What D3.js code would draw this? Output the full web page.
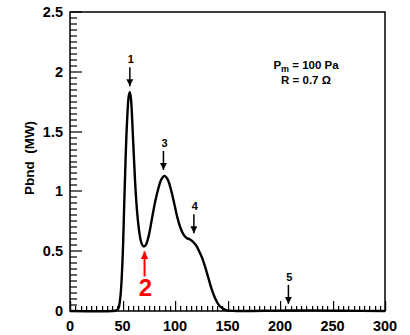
<!DOCTYPE html>
<html><head><meta charset="utf-8">
<script src="https://cdn.jsdelivr.net/npm/d3@7"></script>
<style>body{margin:0;background:#fff}svg{display:block;font-family:"Liberation Sans",Arial,sans-serif;font-weight:bold}</style>
</head><body>
<svg id="c" width="410" height="335"></svg>
<script>
const xs = [0,40,44,46,48,50,52,54,56,57,58,60,62,64,66,68,70,72,75,78,81,84,87,90,93,96,99,102,105,108,111,114,117,120,123,126,129,132,135,138,141,144,148,152,160,200,230,260,300];
const ys = [0,0,0.005,0.02,0.12,0.42,1.0,1.52,1.80,1.83,1.78,1.45,1.08,0.82,0.66,0.57,0.54,0.55,0.63,0.77,0.91,1.02,1.10,1.13,1.10,1.02,0.91,0.79,0.70,0.64,0.61,0.60,0.58,0.55,0.50,0.44,0.36,0.27,0.18,0.11,0.06,0.03,0.01,0.003,0,0.003,0.005,0.002,0];
const xTicks = [0,50,100,150,200,250,300];
const yTicks = [0,0.5,1,1.5,2,2.5];
const markers = [{label:"1",x:57,y:1.83},{label:"3",x:89,y:1.13},{label:"4",x:118,y:0.6},{label:"5",x:208,y:0.01}];
const marker2 = {label:"2",x:71,y:0.54};
const annot = ["P","m"," = 100 Pa","R = 0.7 Ω"];

const svg = d3.select("#c");
const L=70,R=385,T=12,B=311;
const xScale = d3.scaleLinear().domain([0,300]).range([L,R]);
const yScale = d3.scaleLinear().domain([0,2.5]).range([B,T]);

// frame
svg.append("rect").attr("x",L).attr("y",T).attr("width",R-L).attr("height",B-T).attr("fill","none").attr("stroke","#000").attr("stroke-width",1.5);

// tick labels
svg.append("g").selectAll("text").data(xTicks).join("text").attr("x",d=>xScale(d)).attr("y",331).attr("text-anchor","middle").attr("font-size",14.5).text(d=>d);
svg.append("g").selectAll("text").data(yTicks).join("text").attr("x",63).attr("y",d=>yScale(d)+5).attr("text-anchor","end").attr("font-size",14.5).text(d=>d);

// axis title
svg.append("text").attr("transform","translate(34,158) rotate(-90)").attr("text-anchor","middle").attr("font-size",13.5).attr("xml:space","preserve").text("Pbnd  (MW)");

// curve
const pts = xs.map((v,i)=>[v,ys[i]]);
const line = d3.line().x(d=>xScale(d[0])).y(d=>yScale(d[1])).curve(d3.curveCatmullRom.alpha(0.5));
svg.append("path").datum(pts).attr("fill","none").attr("stroke","#000").attr("stroke-width",2.4).attr("d",line);

// arrow markers
const defs = svg.append("defs");
defs.append("marker").attr("id","ah").attr("viewBox","0 0 10 10").attr("refX",10).attr("refY",5).attr("markerWidth",7).attr("markerHeight",7).attr("markerUnits","userSpaceOnUse").attr("orient","auto")
  .append("path").attr("d","M0,0L10,5L0,10Z").attr("fill","#000");
defs.append("marker").attr("id","ahr").attr("viewBox","0 0 10 10").attr("refX",10).attr("refY",5).attr("markerWidth",8).attr("markerHeight",8).attr("markerUnits","userSpaceOnUse").attr("orient","auto")
  .append("path").attr("d","M0,0L10,5L0,10Z").attr("fill","#f00");

markers.forEach(m=>{
  const tipY = yScale(m.y)-6;
  svg.append("line").attr("x1",xScale(m.x)).attr("x2",xScale(m.x)).attr("y1",tipY-19).attr("y2",tipY).attr("stroke","#000").attr("stroke-width",1.5).attr("marker-end","url(#ah)");
  svg.append("text").attr("x",xScale(m.x)+1).attr("y",tipY-23).attr("text-anchor","middle").attr("font-size",11).text(m.label);
});
{
  const tipY = yScale(marker2.y)+5;
  svg.append("line").attr("x1",xScale(marker2.x)).attr("x2",xScale(marker2.x)).attr("y1",tipY+25).attr("y2",tipY).attr("stroke","#f00").attr("stroke-width",2).attr("marker-end","url(#ahr)");
  svg.append("text").attr("x",xScale(marker2.x)+1).attr("y",tipY+45).attr("text-anchor","middle").attr("font-size",24).attr("fill","#f00").text(marker2.label);
}

// annotation
const t1 = svg.append("text").attr("x",306).attr("y",69).attr("text-anchor","middle").attr("font-size",11.5).attr("xml:space","preserve");
t1.append("tspan").text(annot[0]);
t1.append("tspan").attr("dy",3).attr("font-size",9).text(annot[1]);
t1.append("tspan").attr("dy",-3).text(annot[2]);
svg.append("text").attr("x",306).attr("y",84).attr("text-anchor","middle").attr("font-size",11.5).text(annot[3]);

// ticks drawn last as filled rects (inside plot), positions from the scales
const xMinor = d3.range(0,61).map(i=>({v:i*5, major:i%10===0}));
const yMinor = d3.range(0,51).map(i=>({v:i*0.05, major:i%10===0}));
svg.append("g").selectAll("rect").data(xMinor).join("rect")
  .attr("x",d=>Math.round(xScale(d.v))).attr("width",1.2)
  .attr("y",d=>B-(d.major?10:5)).attr("height",d=>d.major?10:5).attr("fill","#000");
svg.append("g").selectAll("rect").data(yMinor).join("rect")
  .attr("x",L).attr("width",d=>d.major?12:7)
  .attr("y",d=>Math.round(yScale(d.v))-0.6).attr("height",1.2).attr("fill","#000");
</script>
</body></html>
